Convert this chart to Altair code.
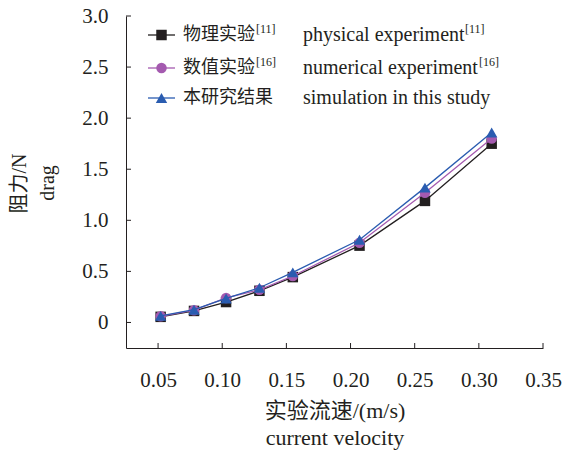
import altair as alt
import pandas as pd

# ---- data ----
velocity = [0.052, 0.078, 0.103, 0.129, 0.155, 0.207, 0.258, 0.310]
physical = [0.055, 0.113, 0.200, 0.310, 0.444, 0.752, 1.190, 1.750]
numerical = [0.060, 0.120, 0.240, 0.320, 0.455, 0.780, 1.270, 1.800]
simulation = [0.065, 0.125, 0.235, 0.340, 0.490, 0.810, 1.320, 1.860]

x_ticks = [0.05, 0.10, 0.15, 0.20, 0.25, 0.30, 0.35]
y_ticks = [0.0, 0.5, 1.0, 1.5, 2.0, 2.5, 3.0]

series_zh = ["物理实验", "数值实验", "本研究结果"]
series_zh_sup = ["[11]", "[16]", ""]
series_en = ["physical experiment", "numerical experiment", "simulation in this study"]
series_en_sup = ["[11]", "[16]", ""]

y_title_zh = "阻力/N"
y_title_en = "drag"
x_title = ["实验流速/(m/s)", "current velocity"]

# ---- styling ----
W, H = 417, 332
SERIF = '"Liberation Serif", "Noto Sans CJK SC"'
INK = "#231f20"
colors = ["#231f20", "#a45aaf", "#2a5cb0"]
shapes = ["square", "circle", "triangle-up"]
sizes = [110, 110, 130]

xscale = alt.Scale(domain=[0.025, 0.35], nice=False, zero=False)
yscale = alt.Scale(domain=[-0.25, 3.0], nice=False, zero=False)

x_axis = alt.Axis(
    values=x_ticks, format=".2f", tickSize=0, grid=False,
    labelFlush=False, labelOverlap=False,
    labelFont=SERIF, labelFontSize=21, labelColor=INK, labelPadding=21,
    domainColor=INK, domainWidth=1,
    title=x_title,
    titleFont=SERIF, titleFontSize=22, titleFontWeight="normal", titleColor=INK,
    titleBaseline="top", titleY=52, titleLineHeight=27,
)
y_axis = alt.Axis(
    values=y_ticks, tickSize=0, grid=False,
    labelFlush=False, labelOverlap=False,
    labelExpr="datum.value == 0 ? '0' : format(datum.value, '.1f')",
    labelFont=SERIF, labelFontSize=21, labelColor=INK, labelPadding=18,
    domainColor=INK, domainWidth=1,
    title=y_title_zh,
    titleFont=SERIF, titleFontSize=20, titleFontWeight="normal", titleColor=INK,
    titleAngle=-90, titleAlign="center", titleBaseline="middle",
    titleX=-107, titleY=H / 2 + 1,
)

def X(field):
    return alt.X(field, scale=xscale, axis=x_axis)

def Y(field):
    return alt.Y(field, scale=yscale, axis=y_axis)

layers = []
for i, vals in enumerate([physical, numerical, simulation]):
    df = pd.DataFrame({"velocity": velocity, "drag": vals})
    layers.append(
        alt.Chart(df).mark_line(color=colors[i], strokeWidth=1.3).encode(
            x=X("velocity:Q"), y=Y("drag:Q"))
    )
    layers.append(
        alt.Chart(df).mark_point(
            shape=shapes[i], filled=True, color=colors[i], size=sizes[i], opacity=1
        ).encode(x=X("velocity:Q"), y=Y("drag:Q"))
    )

# inward ticks
xt = pd.DataFrame({"velocity": x_ticks})
yt = pd.DataFrame({"drag": y_ticks})
layers.append(
    alt.Chart(xt).mark_rule(color=INK, strokeWidth=1).encode(
        x=X("velocity:Q"), y=alt.value(H), y2=alt.value(H - 5))
)
layers.append(
    alt.Chart(yt).mark_rule(color=INK, strokeWidth=1).encode(
        y=Y("drag:Q"), x=alt.value(0), x2=alt.value(5))
)

one = pd.DataFrame({"a": [0]})

# second line of the y title
layers.append(alt.Chart(one).mark_text(
    text=y_title_en, font=SERIF, fontSize=20, angle=270, align="center", baseline="middle",
    color=INK).encode(x=alt.value(-78), y=alt.value(H / 2 + 1)))

# legend (drawn manually to allow superscripts)
row_y = [19, 52, 82]
en_sup_x = [339, 353, 0]
for i in range(3):
    ry = row_y[i]
    layers.append(alt.Chart(one).mark_rule(color=colors[i], strokeWidth=1.3).encode(
        x=alt.value(22), x2=alt.value(49), y=alt.value(ry)))
    layers.append(alt.Chart(one).mark_point(
        shape=shapes[i], filled=True, color=colors[i], size=sizes[i], opacity=1).encode(
        x=alt.value(35.5), y=alt.value(ry)))
    layers.append(alt.Chart(one).mark_text(
        text=series_zh[i], font=SERIF, fontSize=18, align="left", baseline="middle",
        color=INK).encode(x=alt.value(57), y=alt.value(ry)))
    layers.append(alt.Chart(one).mark_text(
        text=series_en[i], font=SERIF, fontSize=20, align="left", baseline="middle",
        color=INK).encode(x=alt.value(177), y=alt.value(ry)))
    if series_zh_sup[i]:
        layers.append(alt.Chart(one).mark_text(
            text=series_zh_sup[i], font=SERIF, fontSize=12, align="left", baseline="middle",
            color=INK).encode(x=alt.value(130), y=alt.value(ry - 6)))
    if series_en_sup[i]:
        layers.append(alt.Chart(one).mark_text(
            text=series_en_sup[i], font=SERIF, fontSize=12, align="left", baseline="middle",
            color=INK).encode(x=alt.value(en_sup_x[i]), y=alt.value(ry - 6)))

chart = alt.layer(*layers).properties(
    width=W, height=H,
    padding={"left": 126, "top": 16, "right": 21, "bottom": 104},
    autosize=alt.AutoSizeParams(type="none"),
).configure_view(stroke=None)

chart.save("out.html", embed_options={"renderer": "svg", "actions": False})
